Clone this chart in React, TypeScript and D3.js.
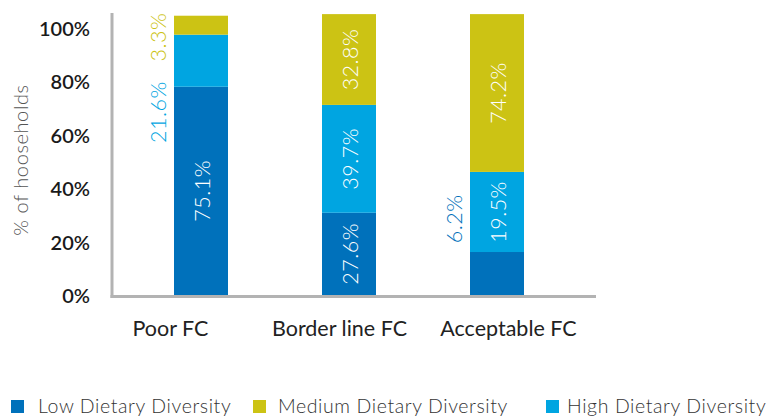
import React from "react";
import * as d3 from "d3";

const categories = ["Poor FC", "Border line FC", "Acceptable FC"];
// segment heights as drawn in the picture (axis units)
const lowDrawn = [78.0, 30.8, 16.1];
const highDrawn = [19.5, 40.4, 30.0];
const mediumDrawn = [7.1, 34.0, 59.1];
// printed values
const lowLabels = ["75.1%", "27.6%", "6.2%"];
const highLabels = ["21.6%", "39.7%", "19.5%"];
const mediumLabels = ["3.3%", "32.8%", "74.2%"];
const yTicks = [0, 20, 40, 60, 80, 100];
const seriesNames = ["Low Dietary Diversity", "Medium Dietary Diversity", "High Dietary Diversity"];

const COLORS = { low: "#0071bb", medium: "#ccc314", high: "#00a5e1" };
const FONT = "Lato, 'Open Sans', sans-serif";

export default function App() {
  const W = 769, H = 418;
  const y = d3.scaleLinear().domain([0, 100]).range([295, 28]);
  const x = d3.scalePoint<string>().domain(categories).range([201, 497]);
  const xLabel = d3.scalePoint<string>().domain(categories).range([170.5, 508.5]);
  const bw = 54;

  const stackData = categories.map((c, i) => ({
    cat: c,
    low: lowDrawn[i],
    high: highDrawn[i],
    medium: mediumDrawn[i],
  }));
  const stack = d3.stack<any>().keys(["low", "high", "medium"]);
  const series = stack(stackData);
  const labelsByKey: Record<string, string[]> = { low: lowLabels, high: highLabels, medium: mediumLabels };
  // labels drawn outside of bars: centre value on axis
  const outside: Record<string, number> = { "high-0": 68.5, "medium-0": 96.6, "low-2": 28.5 };

  const legendSq = [11, 253, 546];
  const legendTx = [38, 278, 567];

  return (
    <svg width={W} height={H} style={{ position: "absolute", left: 0, top: 0 }} fontFamily={FONT}>
      <rect width={W} height={H} fill="#fff" />
      {series.map((s) => (
        <g key={s.key} fill={(COLORS as any)[s.key]}>
          {s.map((d, i) => (
            <rect key={i} x={(x(categories[i]) as number) - bw / 2} width={bw} y={y(d[1])} height={y(d[0]) - y(d[1])} />
          ))}
        </g>
      ))}
      {series.map((s) =>
        s.map((d, i) => {
          const id = `${s.key}-${i}`;
          const isOut = id in outside;
          const cx = isOut ? (x(categories[i]) as number) - bw / 2 - 16 : (x(categories[i]) as number) + 1;
          const cy = isOut ? y(outside[id]) : (y(d[0]) + y(d[1])) / 2;
          return (
            <text
              key={id}
              transform={`translate(${cx},${cy}) rotate(-90)`}
              textAnchor="middle"
              dominantBaseline="central"
              fontSize={21.5}
              fontWeight={300}
              letterSpacing={0.5}
              fill={isOut ? (COLORS as any)[s.key] : "#fff"}
            >
              {labelsByKey[s.key][i]}
            </text>
          );
        })
      )}
      <line x1={112} x2={112} y1={13} y2={298} stroke="#b3b3b3" strokeWidth={3} />
      <line x1={110.5} x2={596} y1={296.5} y2={296.5} stroke="#b3b3b3" strokeWidth={3} />
      {yTicks.map((t) => (
        <text key={t} x={90} y={y(t)} textAnchor="end" dominantBaseline="central" fontSize={20} fontWeight={600} fill="#1a1a1a">
          {t}%
        </text>
      ))}
      <text transform={`translate(20,160) rotate(-90)`} textAnchor="middle" dominantBaseline="central" fontSize={20} fontWeight={300} letterSpacing={0.6} fill="#555">
        % of hooseholds
      </text>
      {categories.map((c) => (
        <text key={c} x={xLabel(c)} y={336} textAnchor="middle" fontSize={21.5} fill="#222">
          {c}
        </text>
      ))}
      {seriesNames.map((n, i) => (
        <g key={n}>
          <rect x={legendSq[i]} y={400} width={13} height={13} fill={[COLORS.low, COLORS.medium, COLORS.high][i]} />
          <text x={legendTx[i]} y={412.5} fontSize={19.5} fontWeight={300} letterSpacing={0.6} fill="#333">
            {n}
          </text>
        </g>
      ))}
    </svg>
  );
}
